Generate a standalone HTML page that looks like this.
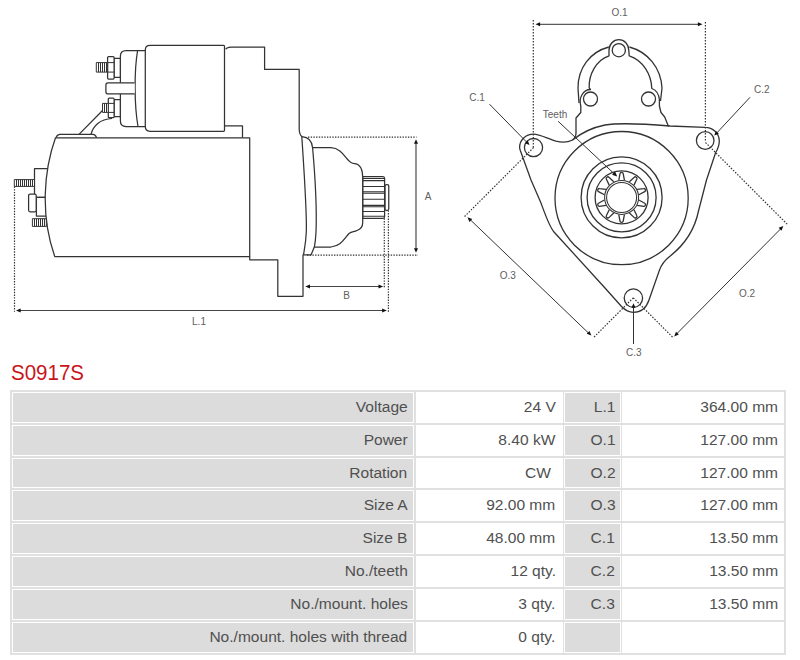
<!DOCTYPE html>
<html><head><meta charset="utf-8">
<style>
html,body{margin:0;padding:0;background:#fff;width:800px;height:660px;overflow:hidden;position:relative;font-family:"Liberation Sans",sans-serif;}
svg.dr{position:absolute;left:0;top:0;}
.title{position:absolute;left:11px;top:360px;font-size:21.5px;color:#c9141c;line-height:26px;white-space:nowrap;transform:scaleX(0.955);transform-origin:0 50%;}
.tb{position:absolute;left:10px;top:390px;width:776px;height:264.6px;background:#e0e0e0;}
.c{position:absolute;box-sizing:border-box;border:1px solid #fff;height:30.83px;font-size:14px;color:#505050;line-height:28px;text-align:right;white-space:nowrap;}
.g{background:#dcdcdc;}
.w{background:#fff;}
.c span{display:inline-block;transform:scaleX(1.11);transform-origin:100% 50%;}
.c1{left:2px;width:402px;padding-right:5.5px;}
.c2{left:406px;width:146.5px;padding-right:6px;}
.c3{left:553.6px;width:57px;padding-right:4.5px;}
.c4{left:612.4px;width:161.6px;padding-right:4.5px;}
</style></head><body>
<svg class="dr" width="800" height="388" viewBox="0 0 800 388">
<g fill="none" stroke="#333" stroke-width="1.25" stroke-linejoin="round">
<!-- end frame parts (behind motor) -->
<rect x="34.5" y="168.7" width="14" height="28.6" fill="#fff"/>
<rect x="36.4" y="197.3" width="12" height="18.7" fill="#fff"/>
<rect x="28.6" y="194" width="7.6" height="17.8" rx="1.5" fill="#fff"/>
<rect x="14.3" y="179.6" width="20.2" height="6.8" fill="#fff" stroke-width="1"/>
<path d="M16.5,179.6 V186.4 M18.5,179.6 V186.4 M20.5,179.6 V186.4 M22.5,179.6 V186.4 M24.5,179.6 V186.4 M26.5,179.6 V186.4 M28.5,179.6 V186.4 M30.5,179.6 V186.4 M32.5,179.6 V186.4" stroke-width="1"/>
<rect x="32.4" y="218.7" width="14" height="7.7" fill="#fff" stroke-width="1"/>
<path d="M34.5,218.7 V226.4 M36.5,218.7 V226.4 M38.5,218.7 V226.4 M40.5,218.7 V226.4 M42.5,218.7 V226.4 M44.5,218.7 V226.4" stroke-width="1"/>
<!-- motor body -->
<path d="M55.5,137.8 C44,170 40,215 54.8,256.6 L249.7,256.6 L249.7,137.8 Z" fill="#fff"/>
<!-- plate on motor top -->
<path d="M56,137.6 C57,135 58,134.4 60,134.4 L93,134.4 C95,134.4 96,136 96.5,137.6"/>
<!-- wire -->
<path d="M79,134.4 L102.5,110.5"/>
<path d="M91,134.4 C93,126 100,119 112,118.5"/>
<!-- small rect under solenoid -->
<path d="M224.5,125.8 L242.5,125.8 L242.5,137.6"/>
<!-- housing -->
<path d="M225.6,49.3 C226.5,47.8 228,47 231,47 L264.6,47 L264.6,69.4 L299.2,69.4 L299.2,129.5 C299.5,134 301,136 302,136.6"/>
<path d="M249.7,256.6 L249.7,259.8 L277.8,259.8 L277.8,296.3 L303,296.3 L303,254.6"/>
<!-- flange -->
<path d="M301.8,136.6 C304,170 307,212 306.3,232 C305.8,244 304.2,250 303.5,254.8 L311.1,254.8 L314.3,247"/>
<path d="M302,136.6 C308,137 312,141 312.6,147.7 C315,175 316.8,212 316,232 C315.6,240 314.8,245 314.3,247.5"/>
<!-- nose -->
<path d="M312.6,147.7 L331,147.7 C342,148 346,160 351,162.5 C354,164 356,163.5 358.5,165 C362,168 362.7,172 362.7,177.3 L362.7,222.7 C362.7,226 361,229 357,230.5 C354,232 352,231.5 349,233.5 C344,239 341,246 331,247 L314.3,247"/>
<!-- pinion -->
<path d="M362.9,176.5 L383,176.5 C384,176.5 384.6,177.5 384.6,178.5 L384.6,216.5 C384.6,217.5 384,218.3 383,218.3 L362.9,218.3 Z" fill="#fff"/>
<path d="M362.9,178.5 H384.6 M362.9,180.6 H384.6 M362.9,186.5 H384.6 M362.9,191.8 H384.6 M362.9,193.3 H384.6 M362.9,199.2 H384.6 M362.9,205.4 H384.6 M362.9,206.8 H384.6 M362.9,211.5 H384.6 M362.9,216.3 H384.6" stroke-width="1.1"/>
<rect x="385" y="184.6" width="3.75" height="25.8" rx="1.5"/>
<!-- solenoid main -->
<path d="M150,45.3 L223.5,45.3 Q224.5,45.3 224.5,46.3 L224.5,130.3 Q224.5,131.3 223.5,131.3 L150,131.3 Q145.3,131.3 145.3,126.6 L145.3,50 Q145.3,45.3 150,45.3 Z" fill="#fff"/>
<!-- solenoid end cap -->
<path d="M145.3,50.5 L126,50.5 Q120.4,50.5 120.4,56 L120.4,121 Q120.4,126.5 126,126.5 L145.3,126.5"/>
<path d="M137.6,50.5 C134.2,70 134.2,105 138,126.5"/>
<!-- middle bar -->
<path d="M134.7,82.8 L108,82.8 C106.6,82.8 105.9,83.6 105.9,85 L105.9,91.7 C105.9,93.1 106.6,93.9 108,93.9 L134.7,93.9" fill="#fff"/>
<!-- upper terminal -->
<rect x="114.1" y="58.4" width="6.2" height="19" fill="#fff"/>
<rect x="107.6" y="56.5" width="6.5" height="22.5" rx="1" fill="#fff"/>
<path d="M107.6,62.6 H114.1 M107.6,72.1 H114.1" stroke-width="1"/>
<rect x="96.3" y="62.6" width="11.3" height="9.5" fill="#fff" stroke-width="1"/>
<path d="M98.5,62.6 V72.1 M100.5,62.6 V72.1 M102.5,62.6 V72.1 M104.5,62.6 V72.1 M106.5,62.6 V72.1" stroke-width="1"/>
<!-- lower terminal -->
<rect x="114.1" y="99.7" width="6.2" height="17" fill="#fff"/>
<rect x="108.3" y="98.1" width="5.8" height="19.6" rx="1" fill="#fff"/>
<path d="M108.3,103.4 H114.1 M108.3,112.4 H114.1" stroke-width="1"/>
<rect x="102.5" y="103.4" width="5.8" height="9" fill="#fff" stroke-width="1"/>
<path d="M104.5,103.4 V112.4 M106.5,103.4 V112.4" stroke-width="1"/>
</g>
<!-- dimensions -->
<g fill="none" stroke="#333" stroke-width="1">
<path d="M308,137.2 H416.5 M307,255.2 H418 M14.5,186.5 V311.8 M384.3,218.3 V288 M388.4,210.4 V311.8" stroke="#333" stroke-width="1.2" stroke-dasharray="1.4,1.3"/>
<path d="M416,142 V250 M307,286.5 H381 M18,310.5 H385" stroke-width="1.15" stroke="#444"/>
</g>
<g fill="#111" stroke="none">
<path d="M416,139.3 L414,143.8 L418,143.8 Z"/>
<path d="M416,252.8 L414,248.3 L418,248.3 Z"/>
<path d="M305.3,286.5 L310,284.5 L310,288.5 Z"/>
<path d="M383.2,286.5 L378.5,284.5 L378.5,288.5 Z"/>
<path d="M16,310.5 L20.7,308.5 L20.7,312.5 Z"/>
<path d="M386.8,310.5 L382.1,308.5 L382.1,312.5 Z"/>
</g>
<g fill="#606060" font-family="Liberation Sans, sans-serif" font-size="10" text-anchor="middle">
<text x="428" y="199.5">A</text>
<text x="346.5" y="299">B</text>
<text x="199" y="324.8">L.1</text>
</g>

<!--RIGHT-->
<g fill="none" stroke="#333" stroke-width="1.3" stroke-linejoin="round">
<path d="M533.5,134.2 C540,134.2 548,139 556,141.2 C562,142.6 568,142.3 572.5,140 C580,134 590,128 605,125 C620,122.5 640,123.5 670,126 L705.2,127.3 C712.8,127.3 719.3,133.5 719.3,141 C719.3,145 717.5,149.5 715.5,153 L706.5,180 L698.5,211 C694,233 682,247 669,257 C664,261 661,266 659.5,270 L649,300 C646,309 640,312.3 633.3,312.3 C628,312.3 625,310 621.5,306.5 L605,288 L554,232 C549,226 545,214 541,203 L531,180 L520.5,151 C520,149.5 519.6,148 519.6,147.5 C519.6,139.8 525.8,134.2 533.5,134.2 Z"/>
<path d="M572.5,140 Q576,137.5 576,133 L576,118 L580.8,112.5 L580.8,106 C578.5,98 583,89.5 590.5,89.5 L589.2,88 C588.5,75 596,60 609,55.8 L609,50.2 A9.9,10.6 0 0 1 628.8,50.2 L629.2,55.8 C643,60 651.5,75 651.8,88.5 C656,90 659,94 659.4,100 L659.4,106 L661,112.5 L664.7,117 L668.5,126.5"/>
<path d="M608.8,47 C590,52 578,68 578,88 L579,103"/>
<path d="M629.4,47 C648,52 661,68 662,88 L660.5,101"/>
<circle cx="618.8" cy="50.2" r="6.6"/>
<circle cx="590.5" cy="99" r="7"/>
<circle cx="648.5" cy="99" r="7"/>
<circle cx="533.5" cy="147.6" r="9.1"/>
<circle cx="705.2" cy="140.5" r="8.8"/>
<circle cx="633.4" cy="298.1" r="9.2"/>
<circle cx="621.6" cy="198.1" r="66.6"/>
<circle cx="621.6" cy="197.4" r="40.5"/>
<circle cx="621.6" cy="197.4" r="34.5"/>
<circle cx="621.6" cy="197.4" r="26.5"/>
<circle cx="621.6" cy="197.4" r="17.0" stroke-width="1.05"/>
<circle cx="621.6" cy="197.4" r="15.0" stroke-width="1.05"/>
<path stroke-width="1.3" d="M618.80,180.20 L620.00,173.60 C620.20,172.00 623.00,172.00 623.20,173.60 L624.40,180.20"/>
<path stroke-width="1.3" d="M629.44,181.84 L634.29,177.20 C635.40,176.03 637.66,177.67 636.88,179.09 L633.98,185.13"/>
<path stroke-width="1.3" d="M637.09,189.42 L643.74,188.52 C645.32,188.22 646.19,190.88 644.73,191.57 L638.82,194.75"/>
<path stroke-width="1.3" d="M638.82,200.05 L644.73,203.23 C646.19,203.92 645.32,206.58 643.74,206.28 L637.09,205.38"/>
<path stroke-width="1.3" d="M633.98,209.67 L636.88,215.71 C637.66,217.13 635.40,218.77 634.29,217.60 L629.44,212.96"/>
<path stroke-width="1.3" d="M624.40,214.60 L623.20,221.20 C623.00,222.80 620.20,222.80 620.00,221.20 L618.80,214.60"/>
<path stroke-width="1.3" d="M613.76,212.96 L608.91,217.60 C607.80,218.77 605.54,217.13 606.32,215.71 L609.22,209.67"/>
<path stroke-width="1.3" d="M606.11,205.38 L599.46,206.28 C597.88,206.58 597.01,203.92 598.47,203.23 L604.38,200.05"/>
<path stroke-width="1.3" d="M604.38,194.75 L598.47,191.57 C597.01,190.88 597.88,188.22 599.46,188.52 L606.11,189.42"/>
<path stroke-width="1.3" d="M609.22,185.13 L606.32,179.09 C605.54,177.67 607.80,176.03 608.91,177.20 L613.76,181.84"/>
</g>
<g fill="none" stroke="#333" stroke-width="1">
<path stroke="#333" stroke-width="1.2" d="M533.3,20 V147.6 M705.4,22 V140.5 M533.5,147.6 L463.5,217.6 M633.3,297.8 L593.3,337.8 M633.3,297.8 L673.5,338 M705.5,142.5 L787.5,224.5" stroke-dasharray="1.5,1.5"/>
<path d="M538,24.3 H700 M470,219.5 L589,333.5 M781,228.5 L676.5,334 M489.5,104.2 L527.5,143 M750,97.3 L716,133.8 M633.5,344 V306 M558.1,121.25 L615,174.5" stroke-width="1"/>
</g>
<g fill="#111" stroke="none">
<path d="M535.50,24.30 L540.10,22.30 L540.10,26.30 Z"/>
<path d="M702.50,24.30 L697.90,26.30 L697.90,22.30 Z"/>
<path d="M467.50,217.30 L472.21,219.03 L469.45,221.92 Z"/>
<path d="M591.40,335.50 L586.69,333.77 L589.45,330.88 Z"/>
<path d="M783.30,226.00 L781.49,230.68 L778.64,227.87 Z"/>
<path d="M674.20,336.40 L676.01,331.72 L678.86,334.53 Z"/>
<path d="M529.50,145.00 L524.92,143.19 L527.78,140.39 Z"/>
<path d="M714.30,135.60 L715.91,130.94 L718.83,133.67 Z"/>
<path d="M633.50,303.30 L635.50,307.80 L631.50,307.80 Z"/>
<path d="M617.20,176.50 L612.05,174.69 L615.05,171.48 Z"/>
</g>
<g fill="#606060" font-family="Liberation Sans, sans-serif" font-size="10" text-anchor="middle">
<text x="619.5" y="16.3">O.1</text>
<text x="477" y="100.5">C.1</text>
<text x="761.8" y="92.5">C.2</text>
<text x="633.8" y="356.3">C.3</text>
<text x="507.7" y="278.6">O.3</text>
<text x="747" y="296.5">O.2</text>
<text x="555" y="118.3">Teeth</text>
</g>
</svg>
<div class="title">S0917S</div>
<div class="tb" id="tb">
<div class="c c1 g" style="top:2.00px"><span>Voltage</span></div>
<div class="c c2 w" style="top:2.00px"><span>24 V</span></div>
<div class="c c3 g" style="top:2.00px"><span>L.1</span></div>
<div class="c c4 w" style="top:2.00px"><span>364.00 mm</span></div>
<div class="c c1 g" style="top:34.83px"><span>Power</span></div>
<div class="c c2 w" style="top:34.83px"><span>8.40 kW</span></div>
<div class="c c3 g" style="top:34.83px"><span>O.1</span></div>
<div class="c c4 w" style="top:34.83px"><span>127.00 mm</span></div>
<div class="c c1 g" style="top:67.66px"><span>Rotation</span></div>
<div class="c c2 w" style="top:67.66px"><span>CW&nbsp;</span></div>
<div class="c c3 g" style="top:67.66px"><span>O.2</span></div>
<div class="c c4 w" style="top:67.66px"><span>127.00 mm</span></div>
<div class="c c1 g" style="top:100.49px"><span>Size A</span></div>
<div class="c c2 w" style="top:100.49px"><span>92.00 mm</span></div>
<div class="c c3 g" style="top:100.49px"><span>O.3</span></div>
<div class="c c4 w" style="top:100.49px"><span>127.00 mm</span></div>
<div class="c c1 g" style="top:133.32px"><span>Size B</span></div>
<div class="c c2 w" style="top:133.32px"><span>48.00 mm</span></div>
<div class="c c3 g" style="top:133.32px"><span>C.1</span></div>
<div class="c c4 w" style="top:133.32px"><span>13.50 mm</span></div>
<div class="c c1 g" style="top:166.15px"><span>No./teeth</span></div>
<div class="c c2 w" style="top:166.15px"><span>12 qty.</span></div>
<div class="c c3 g" style="top:166.15px"><span>C.2</span></div>
<div class="c c4 w" style="top:166.15px"><span>13.50 mm</span></div>
<div class="c c1 g" style="top:198.98px"><span>No./mount. holes</span></div>
<div class="c c2 w" style="top:198.98px"><span>3 qty.</span></div>
<div class="c c3 g" style="top:198.98px"><span>C.3</span></div>
<div class="c c4 w" style="top:198.98px"><span>13.50 mm</span></div>
<div class="c c1 g" style="top:231.81px"><span>No./mount. holes with thread</span></div>
<div class="c c2 w" style="top:231.81px"><span>0 qty.</span></div>
<div class="c c3 g" style="top:231.81px"></div>
<div class="c c4 w" style="top:231.81px"></div>
</div>
</body></html>
